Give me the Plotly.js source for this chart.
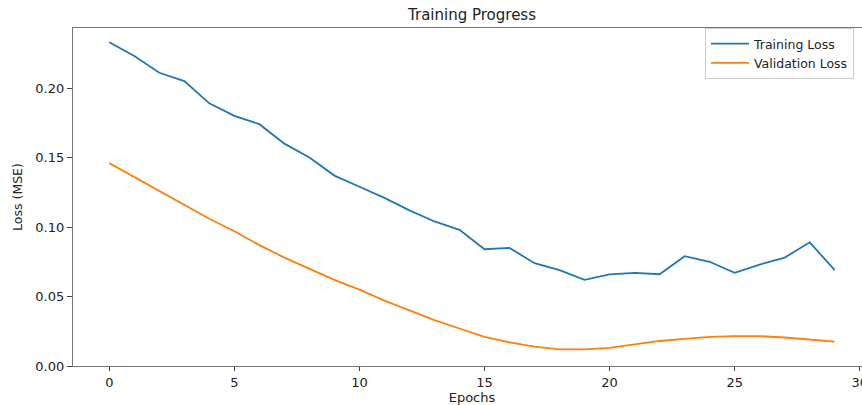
<!DOCTYPE html>
<html>
<head>
<meta charset="utf-8">
<script src="https://cdn.plot.ly/plotly-3.0.1.min.js"></script>
<style>
  html, body { margin: 0; padding: 0; overflow: hidden; background: #fff; }
  #chart { width: 880px; height: 405px; }
</style>
</head>
<body>
<div id="chart"></div>
<script>
const epochs = [0,1,2,3,4,5,6,7,8,9,10,11,12,13,14,15,16,17,18,19,20,21,22,23,24,25,26,27,28,29];
const trainingLoss = [0.233,0.223,0.211,0.205,0.189,0.180,0.174,0.160,0.150,0.137,
                      0.129,0.121,0.112,0.104,0.098,0.084,0.085,0.074,0.069,0.062,
                      0.066,0.067,0.066,0.079,0.075,0.067,0.073,0.078,0.089,0.069];
const validationLoss = [0.146,0.136,0.126,0.116,0.106,0.097,0.087,0.078,0.070,0.062,
                        0.055,0.047,0.040,0.033,0.027,0.021,0.017,0.014,0.012,0.012,
                        0.013,0.0155,0.018,0.0195,0.021,0.0215,0.0215,0.0205,0.019,0.0175];
const seriesNames = ["Training Loss", "Validation Loss"];
const xTicks = [0,5,10,15,20,25,30];
const yTicks = [0,0.05,0.10,0.15,0.20];

const textColor = "#222";
const font = {family: "DejaVu Sans, sans-serif", size: 13, color: textColor};

const traces = [
  {x: epochs, y: trainingLoss, name: seriesNames[0], type: "scatter", mode: "lines",
   line: {color: "#1f77b4", width: 1.8}},
  {x: epochs, y: validationLoss, name: seriesNames[1], type: "scatter", mode: "lines",
   line: {color: "#ff7f0e", width: 1.8}}
];

const layout = {
  width: 880, height: 405,
  margin: {l: 73, r: 9, t: 28, b: 39},
  paper_bgcolor: "#fff", plot_bgcolor: "#fff",
  font: font,
  title: {text: "Training Progress", font: {family: font.family, size: 15, color: textColor},
          xref: "paper", x: 0.5, xanchor: "center", yref: "container", y: 1 - 15/405, yanchor: "middle"},
  xaxis: {
    range: [-1.45, 30.45], tickvals: xTicks, ticktext: xTicks.map(String),
    showgrid: false, zeroline: false, showline: true, mirror: true,
    linecolor: "#777", linewidth: 1.2, ticks: "outside", ticklen: 4, tickcolor: "#444",
    tickfont: font,
    title: {text: "Epochs", font: font, standoff: 5}
  },
  yaxis: {
    range: [0, 0.2432], tickvals: yTicks, ticktext: yTicks.map(v => v.toFixed(2)),
    showgrid: false, zeroline: false, showline: true, mirror: true,
    linecolor: "#777", linewidth: 1.2, ticks: "outside", ticklen: 5, tickcolor: "#444",
    tickfont: font,
    title: {text: "Loss (MSE)", font: {family: font.family, size: 12.5, color: textColor}, standoff: 9}
  },
  showlegend: true,
  legend: {
    x: 0.792, xanchor: "left", y: 1.0, yanchor: "top",
    itemwidth: 38,
    bgcolor: "rgba(255,255,255,0.9)", bordercolor: "#ccc", borderwidth: 1,
    font: {family: font.family, size: 12.5, color: textColor}
  }
};

Plotly.newPlot("chart", traces, layout, {displayModeBar: false, staticPlot: true});
</script>
</body>
</html>
